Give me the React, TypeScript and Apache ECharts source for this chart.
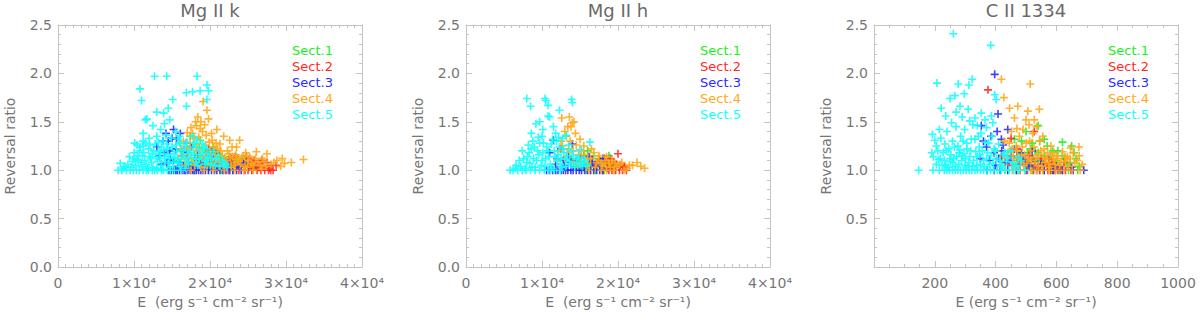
import React, { useEffect, useRef } from "react";
import * as echarts from "echarts";

// ---------- DATA ----------
const sectNames = ["Sect.1", "Sect.2", "Sect.3", "Sect.4", "Sect.5"];
const sectColors = ["#22ee22", "#ff2a2a", "#2a2aff", "#ffa91a", "#12ffff"];
const panelTitles = ["Mg II k", "Mg II h", "C II 1334"];
const yTickValues = [0, 0.5, 1.0, 1.5, 2.0, 2.5];
const mgXTicks = [0, 1, 2, 3, 4]; // units of 10^4 erg s-1 cm-2 sr-1
const ciiXTicks = [200, 400, 600, 800, 1000];

// Mg II k : [E (10^4 erg s-1 cm-2 sr-1), reversal ratio]
const mgkSect1 = [[2.04,1.24],[2.26,1.14],[2.48,1.07],[1.87,1.31],[1.95,1.2],[2.12,1.17],[2.32,1.09],[2.4,1.04],[2.55,1.06],[1.78,1.26],[1.7,1.13],[1.62,1.2],[1.83,1.07],[2.18,1.11],[2.0,1.04],[1.9,1.12],[2.08,1.02],[2.22,1.06],[1.74,1.35],[2.36,1.13],[2.6,1.03],[1.58,1.09],[1.98,1.0],[2.15,1.0],[2.3,1.0],[1.8,1.0],[1.66,1.18],[1.72,1.05],[1.8,1.16],[1.86,1.23],[1.93,1.08],[1.97,1.15],[2.02,1.1],[2.06,1.2],[2.1,1.05],[2.14,1.13],[2.2,1.09],[2.28,1.04],[2.34,1.1],[2.44,1.12],[2.52,1.03]];
const mgkSect2 = [[2.83,1.0],[2.7,1.04],[2.75,1.08],[2.48,1.14],[2.61,1.04],[2.55,1.02],[2.66,1.07],[2.42,1.09],[2.35,1.05],[2.28,1.12],[2.2,1.03],[2.12,1.07],[2.02,1.15],[1.94,1.05],[1.85,1.1],[2.52,1.12],[2.78,1.02],[2.58,1.1],[2.46,1.0],[2.38,1.0],[2.62,1.0],[2.72,1.0],[2.24,1.0],[1.98,1.22],[2.08,1.18],[2.87,1.05],[2.3,1.08],[2.4,1.03],[2.45,1.06],[2.5,1.04],[2.56,1.08],[2.64,1.03],[2.68,1.1],[2.8,1.05],[2.33,1.14],[2.16,1.1],[2.5,1.0],[2.55,1.0],[2.67,1.0],[2.77,1.0],[2.8,1.0]];
const mgkSect3 = [[1.3,1.24],[1.52,1.42],[1.5,1.33],[1.61,1.38],[1.69,1.28],[1.45,1.3],[1.4,1.18],[1.55,1.22],[1.63,1.15],[1.72,1.08],[1.36,1.06],[1.48,1.11],[1.58,1.04],[1.8,1.12],[1.88,1.06],[1.95,1.18],[2.04,1.09],[2.15,1.05],[2.25,1.11],[2.37,1.03],[2.44,1.07],[1.66,1.2],[1.75,1.24],[1.42,1.38],[1.46,1.0],[1.52,1.0],[1.57,1.0],[1.63,1.0],[1.68,1.0],[1.74,1.0],[1.79,1.0],[1.85,1.0],[1.91,1.0],[1.98,1.0],[2.06,1.0],[2.13,1.0],[2.21,1.0],[2.3,1.0],[2.41,1.0],[1.33,1.15],[1.38,1.3],[1.43,1.07],[1.47,1.2],[1.52,1.1],[1.56,1.32],[1.6,1.08],[1.65,1.05],[1.7,1.18],[1.77,1.04],[1.84,1.16],[1.92,1.09],[2.0,1.14],[2.1,1.03],[2.2,1.08],[2.3,1.05],[1.49,1.0],[1.55,1.0],[1.6,1.0],[1.66,1.0],[1.71,1.0],[1.77,1.0],[1.82,1.0],[1.88,1.0],[1.94,1.0],[2.02,1.0],[2.09,1.0],[2.17,1.0],[2.26,1.0],[2.35,1.0]];
const mgkSect4 = [[3.23,1.11],[3.07,1.08],[2.98,1.07],[2.75,1.17],[2.61,1.19],[2.39,1.31],[2.35,1.24],[1.96,1.62],[1.91,1.71],[1.98,1.53],[1.87,1.43],[1.81,1.5],[1.75,1.44],[2.09,1.42],[2.13,1.27],[2.26,1.31],[1.84,1.55],[1.93,1.47],[2.02,1.38],[2.18,1.35],[1.7,1.39],[1.65,1.3],[1.58,1.12],[1.62,1.22],[1.67,1.05],[1.71,1.17],[1.74,1.28],[1.78,1.09],[1.82,1.2],[1.85,1.34],[1.88,1.03],[1.91,1.15],[1.94,1.26],[1.97,1.07],[2.0,1.19],[2.03,1.31],[2.06,1.1],[2.1,1.22],[2.12,1.04],[2.16,1.15],[2.2,1.08],[2.23,1.2],[2.27,1.12],[2.31,1.05],[2.34,1.16],[2.38,1.09],[2.42,1.13],[2.46,1.04],[2.5,1.1],[2.55,1.07],[2.6,1.12],[2.66,1.05],[2.71,1.09],[2.8,1.06],[2.88,1.1],[2.93,1.04],[2.47,1.18],[2.29,1.24],[2.08,1.28],[1.95,1.36],[1.79,1.33],[1.69,1.24],[1.75,1.0],[1.92,1.0],[2.05,1.0],[2.19,1.0],[2.33,1.0],[2.44,1.0],[2.57,1.0],[2.68,1.01],[1.6,1.28],[1.64,1.15],[1.68,1.09],[1.72,1.22],[1.76,1.12],[1.77,1.38],[1.8,1.05],[1.83,1.27],[1.86,1.14],[1.89,1.22],[1.9,1.4],[1.93,1.1],[1.96,1.17],[1.99,1.29],[2.01,1.12],[2.04,1.05],[2.05,1.24],[2.07,1.16],[2.11,1.09],[2.14,1.2],[2.17,1.05],[2.19,1.13],[2.22,1.1],[2.25,1.17],[2.28,1.03],[2.3,1.14],[2.33,1.08],[2.36,1.11],[2.4,1.06],[2.44,1.15],[2.49,1.03],[2.52,1.14],[2.57,1.05],[2.63,1.08],[2.69,1.12],[2.74,1.04],[2.84,1.08],[2.95,1.12],[1.88,1.5],[1.82,1.46]];
const mgkSect5 = [[1.27,1.97],[1.43,1.97],[1.83,1.97],[1.08,1.84],[1.1,1.72],[1.51,1.73],[1.69,1.8],[1.77,1.81],[1.87,1.82],[1.96,1.88],[1.98,1.82],[1.96,1.73],[1.69,1.66],[1.17,1.53],[1.15,1.52],[1.3,1.6],[1.39,1.59],[1.47,1.52],[1.25,1.46],[1.45,1.64],[1.12,1.38],[1.08,1.24],[1.04,1.11],[0.82,1.07],[0.88,1.04],[1.4,1.48],[1.35,1.42],[1.2,1.33],[1.12,1.3],[1.3,1.35],[1.55,1.4],[1.6,1.35],[0.79,1.0],[0.84,1.0],[0.9,1.0],[0.95,1.0],[0.99,1.0],[1.03,1.0],[1.07,1.0],[1.12,1.0],[1.16,1.0],[1.19,1.0],[1.24,1.0],[1.27,1.0],[1.31,1.0],[1.36,1.0],[1.39,1.0],[1.44,1.0],[1.48,1.0],[1.53,1.0],[1.62,1.0],[1.02,1.05],[1.05,1.15],[1.09,1.08],[1.13,1.18],[1.16,1.06],[1.19,1.22],[1.22,1.12],[1.25,1.03],[1.28,1.27],[1.31,1.09],[1.33,1.19],[1.36,1.05],[1.38,1.3],[1.41,1.14],[1.44,1.22],[1.46,1.07],[1.49,1.33],[1.52,1.17],[1.55,1.26],[1.57,1.1],[1.6,1.04],[1.63,1.21],[1.66,1.13],[1.69,1.29],[1.72,1.07],[1.74,1.18],[1.78,1.24],[1.81,1.11],[1.84,1.05],[1.87,1.16],[1.9,1.27],[1.93,1.09],[1.97,1.14],[2.01,1.06],[2.05,1.19],[2.09,1.11],[2.13,1.04],[2.18,1.08],[2.22,1.03],[1.12,1.25],[1.07,1.2],[0.98,1.09],[0.94,1.14],[1.01,1.28],[1.42,1.36],[1.58,1.32],[1.36,1.24],[1.24,1.17],[1.47,1.12],[1.68,1.02],[1.77,1.35],[1.83,1.31],[1.95,1.22],[1.0,1.18],[1.04,1.26],[1.06,1.1],[1.1,1.04],[1.11,1.15],[1.14,1.1],[1.15,1.28],[1.18,1.02],[1.2,1.14],[1.21,1.26],[1.23,1.08],[1.26,1.2],[1.29,1.14],[1.3,1.02],[1.32,1.29],[1.34,1.12],[1.35,1.17],[1.37,1.01],[1.39,1.21],[1.4,1.09],[1.43,1.27],[1.45,1.16],[1.47,1.03],[1.5,1.24],[1.51,1.08],[1.54,1.13],[1.56,1.19],[1.59,1.07],[1.61,1.28],[1.62,1.12],[1.65,1.17],[1.67,1.25],[1.7,1.09],[1.71,1.2],[1.73,1.13],[1.79,1.16],[1.8,1.28],[1.82,1.08],[1.85,1.21],[1.86,1.12],[1.91,1.18],[1.92,1.24],[1.94,1.06],[1.96,1.1],[1.99,1.17],[2.03,1.12],[2.07,1.05],[2.11,1.15],[2.16,1.1],[2.2,1.06],[0.96,1.03],[0.92,1.06],[0.86,1.02],[1.0,1.12]];

// Mg II h
const mghSect1 = [[1.92,1.05],[1.85,1.08],[1.75,1.12],[1.65,1.06],[1.55,1.15],[1.45,1.04],[1.6,1.2],[1.78,1.03],[1.95,1.0],[1.7,1.0],[1.5,1.09],[1.38,1.12],[1.88,1.15],[2.02,1.03],[1.82,1.0],[1.58,1.0],[1.62,1.1],[1.72,1.06],[1.8,1.1],[1.68,1.15],[1.9,1.04],[1.52,1.02],[1.98,1.06]];
const mghSect2 = [[2.0,1.17],[2.11,1.0],[1.97,1.0],[1.76,1.1],[1.85,1.06],[1.92,1.03],[2.03,1.05],[1.7,1.04],[1.88,1.0],[1.8,1.0],[2.06,1.0],[1.95,1.08],[1.65,1.07],[1.82,1.12],[2.09,1.03],[1.9,1.12],[1.98,1.06],[2.08,1.04],[1.86,1.02],[1.72,1.08],[2.02,1.0],[1.92,1.0]];
const mghSect3 = [[1.15,1.31],[1.8,1.12],[1.76,1.03],[1.25,1.22],[1.35,1.15],[1.45,1.1],[1.55,1.06],[1.62,1.14],[1.7,1.05],[1.2,1.12],[1.3,1.05],[1.4,1.27],[1.1,1.18],[1.06,1.0],[1.14,1.0],[1.21,1.0],[1.28,1.0],[1.34,1.0],[1.41,1.0],[1.49,1.0],[1.56,1.0],[1.64,1.0],[1.72,1.0],[1.8,1.0],[1.18,1.06],[1.28,1.1],[1.38,1.08],[1.5,1.13],[1.58,1.03],[1.66,1.09],[1.74,1.07],[1.1,1.0],[1.18,1.0],[1.25,1.0],[1.31,1.0],[1.38,1.0],[1.45,1.0],[1.52,1.0],[1.6,1.0],[1.68,1.0],[1.76,1.0]];
const mghSect4 = [[1.26,1.54],[1.36,1.55],[1.4,1.49],[1.3,1.4],[1.32,1.35],[2.35,1.02],[2.19,1.05],[2.05,1.08],[1.85,1.14],[1.38,1.45],[1.44,1.38],[1.25,1.3],[1.5,1.32],[1.55,1.25],[1.22,1.2],[1.35,1.22],[1.48,1.16],[1.6,1.12],[1.68,1.18],[1.72,1.08],[1.8,1.05],[1.92,1.1],[1.98,1.04],[2.12,1.02],[2.25,1.08],[1.42,1.08],[1.58,1.04],[1.65,1.22],[1.52,1.2],[1.3,1.12],[1.75,1.15],[1.88,1.07],[1.62,1.0],[1.78,1.0],[1.95,1.0],[2.08,1.0],[1.85,1.0],[1.2,1.1],[1.27,1.25],[1.33,1.18],[1.37,1.3],[1.41,1.2],[1.45,1.26],[1.47,1.05],[1.52,1.1],[1.56,1.16],[1.6,1.07],[1.64,1.12],[1.7,1.03],[1.74,1.1],[1.78,1.07],[1.83,1.1],[1.9,1.03],[1.96,1.07],[2.02,1.06],[2.15,1.05],[2.3,1.04],[1.34,1.45],[1.42,1.5]];
const mghSect5 = [[0.8,1.74],[1.04,1.74],[0.85,1.66],[1.08,1.67],[1.39,1.73],[1.4,1.7],[1.23,1.62],[1.08,1.56],[0.97,1.5],[1.01,1.42],[0.86,1.38],[0.66,1.05],[0.58,1.0],[1.63,1.29],[1.5,1.21],[1.05,1.72],[1.1,1.55],[0.92,1.48],[0.88,1.3],[1.15,1.45],[1.32,1.36],[0.72,1.04],[0.76,1.12],[0.8,1.08],[0.83,1.18],[0.87,1.03],[0.9,1.24],[0.93,1.1],[0.96,1.16],[0.99,1.05],[1.02,1.28],[1.05,1.12],[1.08,1.2],[1.11,1.06],[1.14,1.32],[1.17,1.14],[1.2,1.09],[1.23,1.24],[1.26,1.03],[1.29,1.18],[1.32,1.11],[1.35,1.26],[1.38,1.06],[1.41,1.15],[1.45,1.08],[1.49,1.13],[1.53,1.04],[1.57,1.1],[0.95,1.34],[1.18,1.38],[0.82,1.26],[1.27,1.33],[0.62,1.0],[0.68,1.0],[0.74,1.0],[0.79,1.0],[0.85,1.0],[0.91,1.0],[0.97,1.0],[1.03,1.0],[1.09,1.0],[1.16,1.0],[1.24,1.0],[0.7,1.1],[0.74,1.2],[0.78,1.02],[0.81,1.14],[0.84,1.07],[0.86,1.22],[0.89,1.12],[0.91,1.03],[0.94,1.2],[0.97,1.28],[1.0,1.1],[1.01,1.18],[1.04,1.04],[1.06,1.24],[1.09,1.14],[1.12,1.27],[1.13,1.02],[1.16,1.2],[1.19,1.3],[1.21,1.16],[1.24,1.06],[1.25,1.12],[1.28,1.22],[1.31,1.04],[1.33,1.15],[1.36,1.09],[1.39,1.2],[1.43,1.03],[1.46,1.12],[1.5,1.06],[1.55,1.1],[1.6,1.05],[0.65,1.02],[1.0,1.35],[1.22,1.34]];

// C II 1334 : [E (erg s-1 cm-2 sr-1), reversal ratio]
const ciiSect1 = [[540,1.46],[560,1.32],[620,1.29],[650,1.25],[620,1.15],[610,1.0],[450,1.2],[470,1.1],[485,1.3],[500,1.05],[515,1.22],[525,1.12],[540,1.18],[555,1.07],[570,1.25],[580,1.14],[595,1.08],[605,1.2],[635,1.06],[665,1.12],[500,1.4],[480,1.17],[462,1.32],[470,1.0],[520,1.0],[545,1.0],[585,1.0],[640,1.0],[670,1.0],[490,1.12],[505,1.18],[512,1.06],[530,1.2],[548,1.1],[562,1.15],[575,1.05],[588,1.2],[600,1.1],[612,1.04],[628,1.12],[645,1.08],[658,1.18],[675,1.04],[520,1.28],[545,1.3]];
const ciiSect2 = [[375,1.83],[527,1.4],[451,1.33],[470,1.22],[490,1.1],[510,1.15],[530,1.05],[550,1.12],[570,1.04],[585,1.08],[600,1.03],[440,1.08],[420,1.15],[480,1.0],[505,1.0],[525,1.0],[545,1.0],[560,1.0],[572,1.0],[580,1.0],[588,1.0],[596,1.0],[605,1.0],[615,1.0],[630,1.0],[648,1.0],[455,1.05],[500,1.08],[520,1.12],[540,1.03],[560,1.07],[575,1.12],[590,1.05],[610,1.04],[625,1.08]];
const ciiSect3 = [[397,1.99],[408,1.58],[353,1.46],[440,1.42],[419,1.32],[370,1.24],[385,1.35],[395,1.18],[410,1.12],[425,1.26],[432,1.08],[450,1.15],[462,1.22],[478,1.06],[495,1.12],[510,1.04],[530,1.09],[350,1.12],[360,1.3],[405,1.4],[520,1.2],[372,1.0],[395,1.0],[415,1.0],[440,1.0],[468,1.0],[500,1.0],[535,1.0],[560,1.0],[590,1.0],[620,1.0],[655,1.0],[690,1.0],[380,1.1],[400,1.05],[420,1.2],[445,1.1],[470,1.13],[485,1.18],[505,1.07],[550,1.06],[600,1.04],[650,1.03]];
const ciiSect4 = [[419,1.94],[427,1.75],[514,1.89],[446,1.64],[473,1.66],[544,1.63],[506,1.61],[462,1.54],[527,1.52],[647,1.23],[674,1.24],[636,1.14],[593,1.18],[400,1.2],[415,1.1],[428,1.3],[440,1.18],[452,1.4],[460,1.08],[468,1.25],[478,1.35],[485,1.15],[492,1.05],[500,1.28],[508,1.12],[515,1.2],[522,1.38],[530,1.08],[538,1.16],[545,1.3],[552,1.04],[560,1.22],[568,1.12],[575,1.06],[582,1.25],[590,1.1],[600,1.15],[610,1.05],[620,1.19],[630,1.09],[645,1.12],[660,1.07],[675,1.15],[455,1.22],[470,1.12],[490,1.42],[535,1.45],[555,1.35],[430,1.0],[455,1.0],[475,1.0],[495,1.0],[515,1.0],[535,1.0],[555,1.0],[575,1.0],[598,1.0],[625,1.0],[652,1.0],[678,1.0],[420,1.05],[435,1.12],[445,1.28],[458,1.15],[465,1.04],[472,1.2],[482,1.08],[488,1.24],[495,1.16],[503,1.07],[512,1.3],[518,1.1],[526,1.24],[533,1.13],[541,1.05],[548,1.2],[556,1.14],[563,1.08],[571,1.18],[578,1.03],[586,1.15],[595,1.06],[605,1.12],[615,1.08],[628,1.14],[640,1.04],[655,1.18],[668,1.1],[685,1.06],[510,1.47],[470,1.43],[500,1.52]];
const ciiSect5 = [[261,2.41],[384,2.29],[207,1.9],[323,1.94],[277,1.89],[312,1.88],[397,1.78],[402,1.73],[221,1.64],[250,1.74],[266,1.77],[283,1.66],[297,1.79],[192,1.37],[190,1.18],[212,1.11],[147,1.0],[236,1.56],[255,1.49],[310,1.63],[332,1.54],[353,1.59],[386,1.56],[391,1.49],[370,1.44],[205,1.25],[220,1.33],[228,1.18],[240,1.4],[246,1.22],[258,1.3],[262,1.12],[270,1.45],[276,1.25],[285,1.35],[290,1.15],[298,1.42],[305,1.28],[312,1.08],[318,1.2],[325,1.47],[332,1.32],[340,1.14],[346,1.24],[352,1.38],[360,1.1],[366,1.29],[374,1.18],[380,1.06],[388,1.35],[395,1.22],[402,1.12],[410,1.27],[418,1.05],[425,1.16],[436,1.09],[448,1.2],[462,1.04],[475,1.13],[236,1.05],[252,1.09],[268,1.04],[280,1.18],[300,1.05],[325,1.04],[350,1.06],[205,1.06],[218,1.12],[233,1.27],[270,1.6],[290,1.55],[315,1.51],[340,1.46],[365,1.52],[250,1.12],[195,1.14],[194,1.0],[215,1.0],[231,1.0],[240,1.0],[249,1.0],[258,1.0],[267,1.0],[276,1.0],[285,1.0],[294,1.0],[303,1.0],[313,1.0],[322,1.0],[332,1.0],[341,1.0],[351,1.0],[361,1.0],[372,1.0],[383,1.0],[394,1.0],[406,1.0],[418,1.0],[431,1.0],[445,1.0],[460,1.0],[478,1.0],[497,1.0],[232,1.1],[238,1.2],[244,1.03],[253,1.16],[259,1.08],[264,1.24],[272,1.14],[279,1.06],[283,1.21],[288,1.1],[293,1.3],[296,1.17],[301,1.12],[306,1.22],[309,1.04],[315,1.14],[320,1.32],[328,1.1],[335,1.19],[338,1.05],[343,1.35],[348,1.16],[356,1.2],[363,1.04],[370,1.12],[377,1.28],[384,1.15],[392,1.07],[399,1.2],[414,1.1],[422,1.03],[430,1.18],[440,1.13],[455,1.08],[470,1.05],[485,1.1],[224,1.05],[210,1.2],[215,1.42],[200,1.31]];

const panelData = [
  [mgkSect1, mgkSect2, mgkSect3, mgkSect4, mgkSect5],
  [mghSect1, mghSect2, mghSect3, mghSect4, mghSect5],
  [ciiSect1, ciiSect2, ciiSect3, ciiSect4, ciiSect5],
];

// ---------- STYLE ----------
const FONT = "DejaVu Sans";
const FRAME = "#c4c4c4";
const TEXT = "#767676";
const PLUS = "path://M0,3.2H3.2V0H4.8V3.2H8V4.8H4.8V8H3.2V4.8H0Z";
const gridLefts = [58, 466, 874];
const GRID_TOP = 25;
const GRID_W = 304;
const GRID_H = 242;

function buildOption() {
  const grid = gridLefts.map((l) => ({ left: l, top: GRID_TOP, width: GRID_W, height: GRID_H }));
  const xAxis: any[] = [];
  const yAxis: any[] = [];
  for (let i = 0; i < 3; i++) {
    const isC = i === 2;
    const xt = isC ? ciiXTicks : mgXTicks;
    const common = {
      gridIndex: i,
      type: "value",
      min: 0,
      max: xt[xt.length - 1],
      interval: xt[1] - xt[0],
      splitLine: { show: false },
      axisLine: { show: true, onZero: false, lineStyle: { color: FRAME, width: 1 } },
      axisTick: { show: true, inside: true, length: 6, lineStyle: { color: FRAME } },
      minorTick: { show: true, splitNumber: isC ? 4 : 10, length: 3, lineStyle: { color: FRAME } },
    };
    xAxis.push({
      ...common,
      position: "bottom",
      axisLabel: {
        show: true,
        showMinLabel: !isC,
        margin: 9,
        color: TEXT,
        fontSize: 14,
        fontFamily: FONT,
        formatter: (v: number) => (isC ? String(v) : v === 0 ? "0" : `${v}×10⁴`),
      },
      name: isC ? "E (erg s⁻¹ cm⁻² sr⁻¹)" : "E  (erg s⁻¹ cm⁻² sr⁻¹)",
      nameLocation: "middle",
      nameGap: 27,
      nameTextStyle: { color: TEXT, fontSize: 14, fontFamily: FONT },
    });
    xAxis.push({ ...common, position: "top", axisLabel: { show: false } });
    const yCommon = {
      gridIndex: i,
      type: "value",
      min: yTickValues[0],
      max: yTickValues[yTickValues.length - 1],
      interval: yTickValues[1] - yTickValues[0],
      splitLine: { show: false },
      axisLine: { show: true, onZero: false, lineStyle: { color: FRAME, width: 1 } },
      axisTick: { show: true, inside: true, length: 6, lineStyle: { color: FRAME } },
      minorTick: { show: true, splitNumber: 5, length: 3, lineStyle: { color: FRAME } },
    };
    yAxis.push({
      ...yCommon,
      position: "left",
      axisLabel: {
        show: true,
        showMinLabel: !isC,
        margin: 6,
        color: TEXT,
        fontSize: 14,
        fontFamily: FONT,
        formatter: (v: number) => v.toFixed(1),
      },
      name: "Reversal ratio",
      nameLocation: "middle",
      nameGap: 41,
      nameTextStyle: { color: TEXT, fontSize: 14, fontFamily: FONT },
    });
    yAxis.push({ ...yCommon, position: "right", axisLabel: { show: false } });
  }

  const series: any[] = [];
  panelData.forEach((sects, i) => {
    sects.forEach((pts, k) => {
      series.push({
        type: "scatter",
        name: sectNames[k],
        xAxisIndex: 2 * i,
        yAxisIndex: 2 * i,
        symbol: PLUS,
        symbolSize: 8,
        itemStyle: { color: sectColors[k], opacity: 0.9 },
        data: pts,
        silent: true,
      });
    });
  });

  const title = panelTitles.map((t, i) => ({
    text: t,
    left: gridLefts[i] + GRID_W / 2,
    top: 1,
    textAlign: "center",
    padding: 0,
    textStyle: { fontSize: 18, fontWeight: "normal", color: "#6a6a6a", fontFamily: FONT },
  }));

  const legend = gridLefts.map((l) => ({
    orient: "vertical",
    left: l + 229,
    top: 43,
    icon: "none",
    itemWidth: 0,
    itemHeight: 14,
    itemGap: 2.5,
    padding: 0,
    selectedMode: false,
    data: sectNames.map((n, k) => ({ name: n, textStyle: { color: sectColors[k] } })),
    textStyle: { fontSize: 13, fontFamily: FONT },
  }));

  return { animation: false, backgroundColor: "#ffffff", grid, xAxis, yAxis, series, title, legend };
}

export default function App() {
  const ref = useRef<HTMLDivElement>(null);
  useEffect(() => {
    if (!ref.current) return;
    const chart = echarts.init(ref.current, undefined, { renderer: "svg" });
    chart.setOption(buildOption() as any);
    return () => chart.dispose();
  }, []);
  return (
    <div
      ref={ref}
      style={{ position: "fixed", left: 0, top: 0, width: 1200, height: 316, background: "#fff" }}
    />
  );
}
